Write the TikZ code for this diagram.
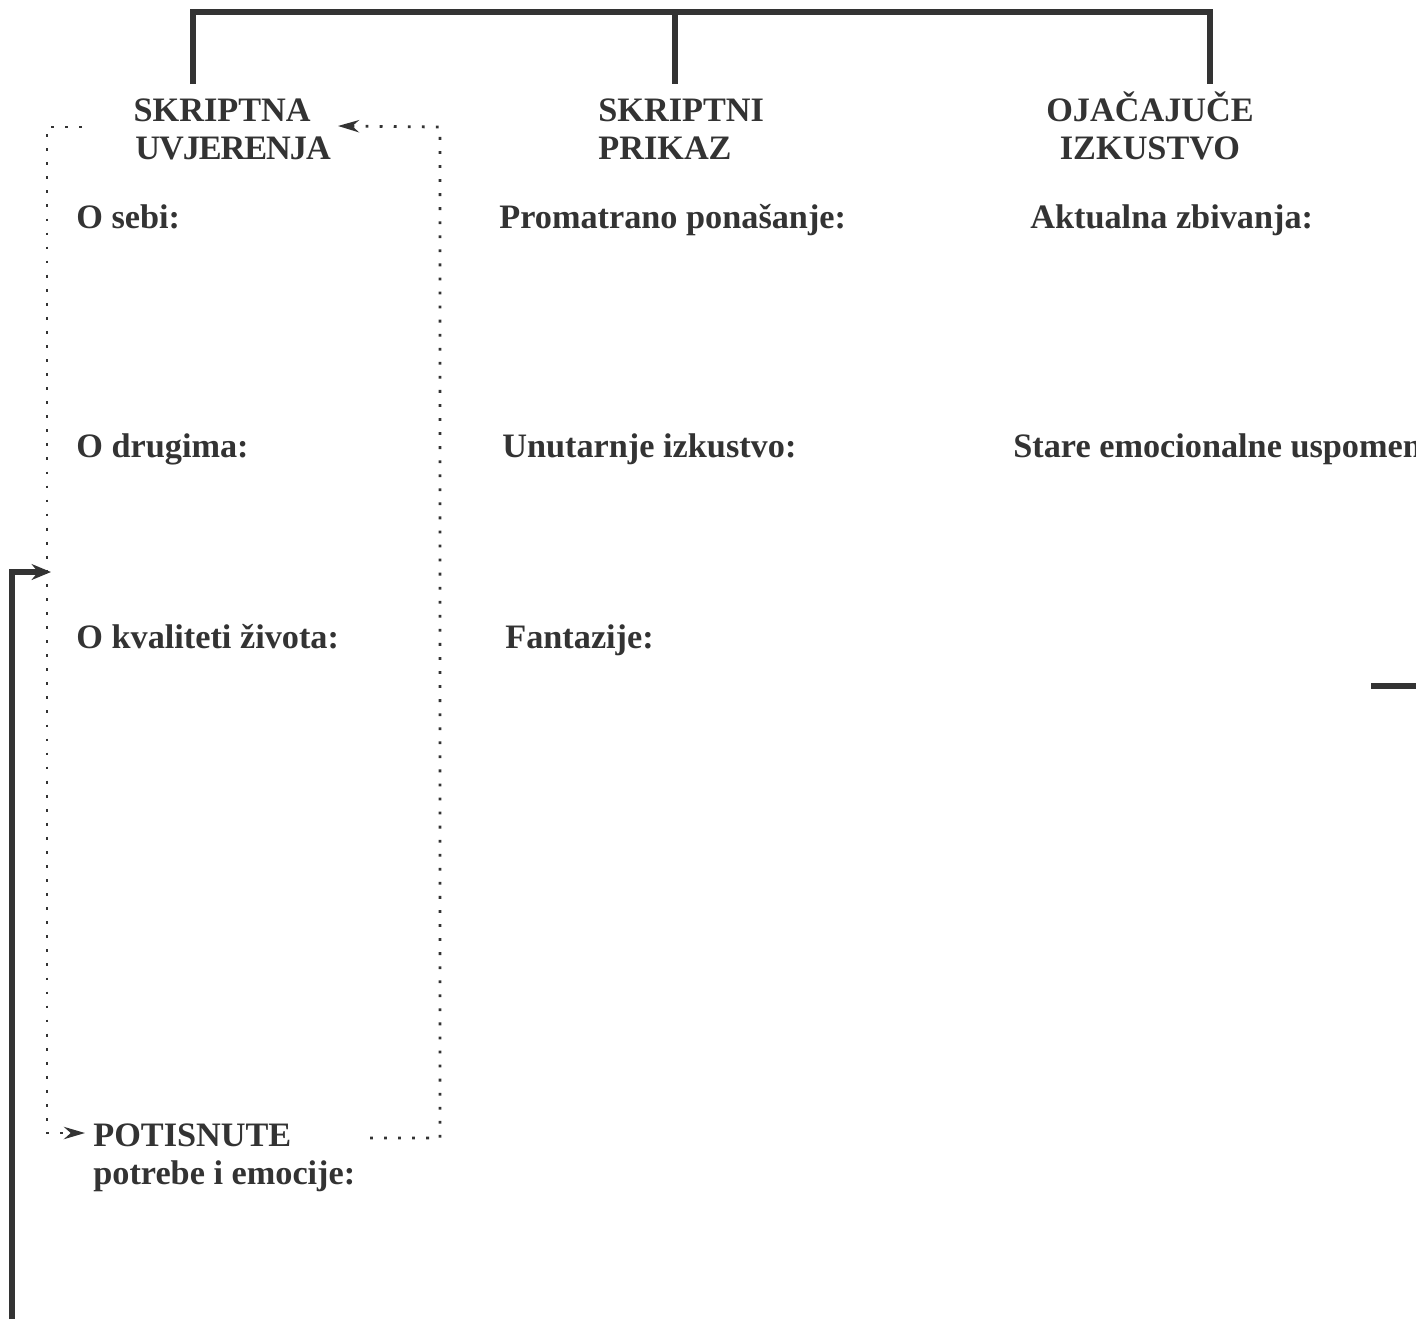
\documentclass[tikz,border=0pt]{standalone}
\usepackage{fontspec}
\setmainfont{Liberation Serif}
\usepackage{tikz}
\usetikzlibrary{calc,arrows.meta,positioning}
\definecolor{sk-ink}{HTML}{333333}

\tikzset{
  heading/.style={font=\fontsize{19.5}{21.5}\selectfont\bfseries, text=sk-ink, inner sep=0pt, align=center},
  field/.style={font=\fontsize{19.5}{21.5}\selectfont\bfseries, text=sk-ink, inner sep=0pt, anchor=base west},
  bar/.style={draw=sk-ink, line width=2.9pt, line join=miter},
  dots/.style={draw=sk-ink, line width=1.6pt, dash pattern=on 1.6pt off 6.4pt},
}

\begin{document}
\begin{tikzpicture}[x=0.02cm, y=-0.02cm, >=Stealth]
    \useasboundingbox (0,0) rectangle (1416,1319);
    \clip (0,0) rectangle (1416,1319);

    % three columns
    \node[heading, align=left, anchor=base west] (uvjer) at (135,159) {\hspace{-1pt}SKRIPTNA\\{\addfontfeature{LetterSpace=-3}UVJERENJA}};
    \node[heading, align=left, anchor=base west] (prikaz) at (598,159) {SKRIPTNI\\PRIKAZ};
    \node[heading, anchor=base] (izkus) at (1150,159) {OJAČAJUČE\\IZKUSTVO};

    \coordinate (bl) at (193,84);
    \coordinate (bm) at (675,84);
    \coordinate (br) at (1210,84);
    \coordinate (tl) at (193,12);
    \coordinate (tm) at (675,12);
    \coordinate (tr) at (1210,12);
    \draw[bar] (bl) -- (tl) -- (tr) -- (br);
    \draw[bar] (tm) -- (bm);

    % entries
    \node[field] (sebi) at (76,228) {O sebi:};
    \node[field] (drugi) at (76,457) {O drugima:};
    \node[field] (zivot) at (76,648) {O kvaliteti života:};
    \node[field] (ponas) at (499,228) {Promatrano ponašanje:};
    \node[field] (unut) at (502,457) {Unutarnje izkustvo:};
    \node[field] (fant) at (505,648) {Fantazije:};
    \node[field] (aktu) at (1030,228) {Aktualna zbivanja:};
    \node[field] (stare) at (1013,457) {Stare emocionalne uspomene};
    \node[field, align=left] (potis) at (93,1184) {POTISNUTE\\potrebe i emocije:};

    % dotted loop
    \coordinate (ftl) at (47,127);
    \coordinate (fte) at (82,127);
    \coordinate (ftr) at (440,127);
    \coordinate (fbr) at (440,1138);
    \coordinate (fbs) at (370,1138);
    \coordinate (fbl) at (47,1133);
    \coordinate (pin) at (85,1133);
    \coordinate (uin) at (338,126);
    \draw[dots, -{Stealth[length=12pt,width=7pt]}] (fte) -- (ftl) -- (fbl) -- (pin);
    \draw[dots, -{Stealth[length=12pt,width=7pt]}] (fbs) -- (fbr) -- (ftr) -- (uin);

    % feedback arrow
    \coordinate (fb0) at (12,1319);
    \coordinate (fbin) at (51,572);
    \draw[bar, -{Stealth[length=11pt,width=9pt]}] (fb0) |- (fbin);

    \coordinate (d0) at (1371,686);
    \coordinate (d1) at (1416,686);
    \draw[bar] (d0) -- (d1);
\end{tikzpicture}
\end{document}
